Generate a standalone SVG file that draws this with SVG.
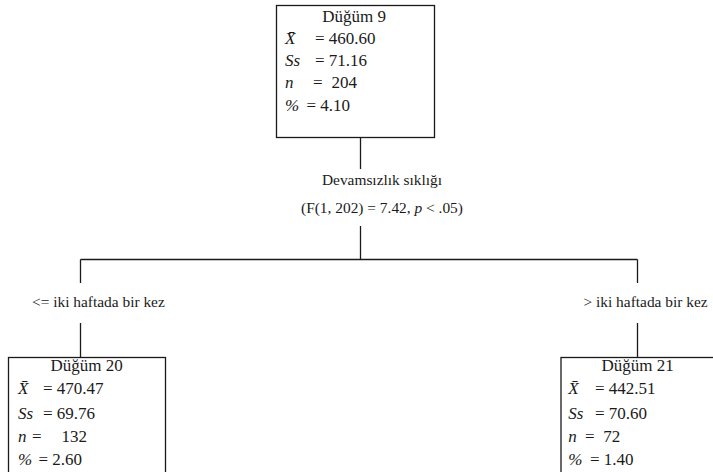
<svg xmlns="http://www.w3.org/2000/svg" width="713" height="472" viewBox="0 0 713 472" font-family="'Liberation Serif', 'Times New Roman', Tinos, 'DejaVu Serif', serif">
<style>
  .box { fill: #ffffff; stroke: #1a1a1a; stroke-width: 1.3; }
  .conn line { stroke: #1a1a1a; stroke-width: 1.3; }
  text { fill: #1a1a1a; }
  .t { font-size: 17px; }
  .lbl { font-size: 15.4px; }
  .i { font-style: italic; }
</style>
<rect width="713" height="472" fill="#ffffff"/>
<g id="connectors" class="conn">
  <line x1="360.5" y1="137.5" x2="360.5" y2="169"/>
  <line x1="360.5" y1="226" x2="360.5" y2="259.5"/>
  <line x1="80.5" y1="259.5" x2="637.5" y2="259.5"/>
  <line x1="80.5" y1="259.5" x2="80.5" y2="283"/>
  <line x1="80.5" y1="323" x2="80.5" y2="357.5"/>
  <line x1="637.5" y1="259.5" x2="637.5" y2="283"/>
  <line x1="637.5" y1="323" x2="637.5" y2="357.5"/>
</g>
<g id="split-label">
  <text class="lbl" x="382" y="185" text-anchor="middle">Devamsızlık sıklığı</text>
  <text class="lbl" x="382" y="213" text-anchor="middle">(F(1, 202) = 7.42, <tspan class="i">p</tspan> &lt; .05)</text>
</g>
<g id="edge-left-label">
  <text class="lbl" x="32" y="306.5">&lt;= iki haftada bir kez</text>
</g>
<g id="edge-right-label">
  <text class="lbl" x="583.5" y="306.5">&gt; iki haftada bir kez</text>
</g>
<g id="node9">
  <rect class="box" x="276.5" y="5.5" width="158" height="132"/>
  <text class="t" x="354" y="22.3" text-anchor="middle">Düğüm 9</text>
  <text class="t i" x="285" y="44.3">X̄</text>
  <text class="t" x="315" y="44.3">= 460.60</text>
  <text class="t i" x="285" y="66.3">Ss</text>
  <text class="t" x="315" y="66.3">= 71.16</text>
  <text class="t i" x="285" y="88.3">n</text>
  <text class="t" x="313" y="88.3">=</text>
  <text class="t" x="331.5" y="88.3">204</text>
  <text class="t i" x="285" y="110.5">%</text>
  <text class="t" x="306.5" y="110.5">= 4.10</text>
</g>
<g id="node20">
  <rect class="box" x="8.5" y="357.5" width="157" height="130"/>
  <text class="t" x="86.5" y="371" text-anchor="middle">Düğüm 20</text>
  <text class="t i" x="18" y="393.5">X̄</text>
  <text class="t" x="43" y="393.5">= 470.47</text>
  <text class="t i" x="18" y="418.5">Ss</text>
  <text class="t" x="43" y="418.5">= 69.76</text>
  <text class="t i" x="18" y="441.5">n</text>
  <text class="t" x="32" y="441.5">=</text>
  <text class="t" x="61.5" y="441.5">132</text>
  <text class="t i" x="18" y="465">%</text>
  <text class="t" x="38.5" y="465">= 2.60</text>
</g>
<g id="node21">
  <rect class="box" x="561" y="357.5" width="157" height="130"/>
  <text class="t" x="637.5" y="371" text-anchor="middle">Düğüm 21</text>
  <text class="t i" x="568.3" y="393.5">X̄</text>
  <text class="t" x="595" y="393.5">= 442.51</text>
  <text class="t i" x="568.3" y="418.5">Ss</text>
  <text class="t" x="595" y="418.5">= 70.60</text>
  <text class="t i" x="568.3" y="441.5">n</text>
  <text class="t" x="585" y="441.5">=</text>
  <text class="t" x="603.3" y="441.5">72</text>
  <text class="t i" x="568.3" y="465">%</text>
  <text class="t" x="590" y="465">= 1.40</text>
</g>
</svg>
